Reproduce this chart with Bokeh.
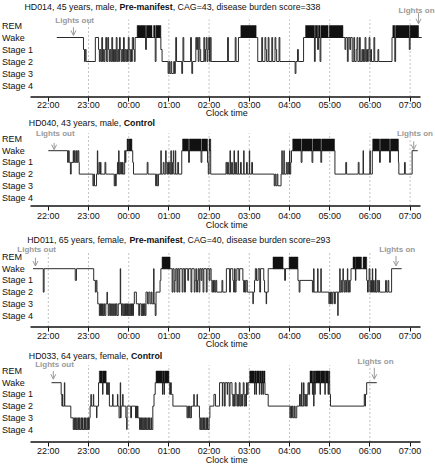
from bokeh.plotting import figure
from bokeh.models import LinearAxis, FixedTicker, Label, Arrow, OpenHead, Range1d
from bokeh.layouts import column
from bokeh.embed import file_html
from bokeh.resources import INLINE

FONT = "Liberation Sans"
GRAY = "#9a9a9a"

# ---------------- data ----------------
stage_names = ["Stage 4", "Stage 3", "Stage 2", "Stage 1", "Wake", "REM"]
stage_code = {"4": 0, "3": 1, "2": 2, "1": 3, "W": 4, "R": 5}
hour_ticks = [0, 1, 2, 3, 4, 5, 6, 7, 8, 9]          # hours after 22:00
hour_labels = ["22:00", "23:00", "00:00", "01:00", "02:00",
               "03:00", "04:00", "05:00", "06:00", "07:00"]
x_title = "Clock time"

# panel 1
p1_title = ("HD014, 45 years, male, ", "Pre-manifest", ", CAG=43, disease burden score=338")
p1_lights = (0.625, 9.21)
p1_end = 9.29
p1_hypno = [(0.21,"W"),(0.875,"1"),(0.90,"2"),(0.92,"1"),(0.94,"2"),(1.17,"W"),(1.25,"1"),(1.27,"2"),(1.29,"1"),(1.31,"2"),(1.33,"W"),(1.35,"2"),(1.37,"1"),(1.39,"2"),(1.41,"1"),(1.43,"W"),(1.45,"2"),(1.48,"W"),(1.50,"1"),(1.52,"2"),(1.54,"1"),(1.56,"2"),(1.58,"W"),(1.60,"2"),(1.62,"1"),(1.63,"2"),(1.65,"1"),(1.67,"2"),(1.69,"W"),(1.71,"2"),(1.73,"1"),(1.75,"2"),(1.77,"W"),(1.79,"1"),(1.81,"2"),(1.83,"1"),(1.85,"2"),(1.87,"W"),(1.89,"2"),(1.91,"1"),(1.93,"2"),(1.95,"1"),(1.97,"2"),(1.99,"W"),(2.01,"1"),(2.03,"2"),(2.05,"1"),(2.07,"2"),(2.09,"W"),(2.12,"1"),(2.14,"2"),(2.16,"W"),(2.21,"R"),(2.42,"1"),(2.44,"R"),(2.58,"W"),(2.62,"R"),(2.66,"2"),(2.68,"R"),(2.80,"1"),(2.83,"2"),(2.98,"3"),(3.00,"2"),(3.02,"3"),(3.05,"2"),(3.07,"3"),(3.12,"2"),(3.14,"3"),(3.16,"2"),(3.17,"W"),(3.19,"2"),(3.32,"3"),(3.34,"2"),(3.35,"W"),(3.37,"2"),(3.54,"W"),(3.56,"2"),(3.57,"3"),(3.59,"2"),(3.67,"W"),(3.69,"1"),(3.71,"W"),(3.73,"2"),(3.75,"W"),(3.77,"1"),(3.79,"2"),(3.87,"W"),(3.89,"2"),(3.91,"1"),(3.93,"W"),(3.95,"2"),(3.97,"1"),(3.99,"W"),(4.01,"2"),(4.03,"W"),(4.05,"2"),(4.46,"W"),(4.48,"2"),(4.65,"W"),(4.67,"2"),(4.73,"W"),(4.79,"R"),(5.17,"W"),(5.21,"2"),(5.31,"W"),(5.33,"2"),(5.39,"W"),(5.41,"1"),(5.43,"2"),(5.47,"W"),(5.49,"2"),(5.56,"W"),(5.58,"2"),(5.64,"W"),(5.66,"1"),(5.68,"2"),(5.74,"W"),(5.76,"2"),(6.14,"3"),(6.16,"2"),(6.20,"1"),(6.22,"2"),(6.35,"W"),(6.40,"R"),(6.62,"2"),(6.64,"R"),(6.70,"1"),(6.72,"R"),(6.76,"2"),(6.78,"R"),(6.96,"W"),(6.99,"R"),(7.33,"W"),(7.38,"1"),(7.40,"W"),(7.44,"2"),(7.46,"W"),(7.50,"1"),(7.52,"W"),(7.56,"2"),(7.60,"W"),(7.62,"2"),(7.66,"1"),(7.68,"W"),(7.70,"2"),(7.74,"W"),(7.76,"2"),(7.80,"1"),(7.82,"2"),(7.84,"1"),(7.86,"2"),(7.88,"W"),(7.90,"2"),(7.92,"1"),(7.94,"2"),(7.96,"1"),(7.98,"W"),(8.00,"2"),(8.02,"1"),(8.04,"2"),(8.10,"W"),(8.12,"2"),(8.20,"1"),(8.22,"2"),(8.55,"W"),(8.57,"R"),(8.62,"2"),(8.64,"R"),(8.98,"1"),(9.00,"R"),(9.21,"W")]

# panel 2
p2_title = ("HD040, 43 years, male, ", "Control", "")
p2_lights = (0.145, 9.09)
p2_end = 9.19
p2_hypno = [(0.0,"W"),(0.48,"1"),(0.50,"W"),(0.52,"1"),(0.55,"2"),(0.57,"1"),(0.62,"W"),(0.63,"1"),(0.65,"W"),(0.67,"1"),(0.70,"W"),(0.72,"1"),(0.74,"W"),(0.76,"1"),(0.77,"2"),(1.11,"3"),(1.13,"2"),(1.15,"3"),(1.20,"2"),(1.22,"W"),(1.23,"2"),(1.26,"1"),(1.28,"2"),(1.30,"1"),(1.31,"2"),(1.41,"1"),(1.43,"2"),(1.64,"3"),(1.66,"2"),(1.67,"3"),(1.69,"2"),(1.72,"1"),(1.74,"2"),(1.75,"W"),(1.76,"2"),(1.78,"1"),(1.80,"2"),(1.82,"1"),(1.84,"2"),(1.85,"1"),(1.86,"2"),(1.90,"W"),(1.92,"1"),(1.93,"W"),(1.96,"R"),(2.00,"W"),(2.01,"R"),(2.08,"W"),(2.10,"1"),(2.12,"2"),(2.46,"1"),(2.48,"2"),(2.67,"3"),(2.69,"2"),(2.71,"3"),(2.74,"2"),(2.80,"W"),(2.81,"2"),(2.86,"1"),(2.88,"2"),(2.92,"W"),(2.93,"1"),(2.95,"2"),(2.97,"1"),(2.99,"2"),(3.01,"1"),(3.03,"2"),(3.05,"W"),(3.06,"2"),(3.09,"1"),(3.11,"W"),(3.12,"2"),(3.16,"W"),(3.17,"2"),(3.22,"1"),(3.24,"2"),(3.32,"W"),(3.34,"R"),(3.49,"1"),(3.51,"R"),(3.80,"1"),(3.82,"R"),(3.96,"1"),(3.98,"2"),(4.00,"R"),(4.04,"2"),(4.42,"1"),(4.44,"2"),(4.46,"1"),(4.48,"2"),(4.52,"W"),(4.53,"2"),(4.56,"1"),(4.58,"2"),(4.62,"W"),(4.63,"2"),(4.66,"1"),(4.68,"2"),(4.72,"W"),(4.73,"2"),(4.78,"1"),(4.80,"2"),(4.86,"W"),(4.87,"2"),(4.93,"1"),(4.95,"2"),(5.00,"W"),(5.01,"2"),(5.06,"1"),(5.08,"2"),(5.62,"3"),(5.64,"2"),(5.66,"3"),(5.69,"2"),(5.71,"3"),(5.79,"2"),(5.81,"W"),(5.82,"2"),(5.86,"W"),(5.87,"2"),(5.92,"1"),(5.94,"2"),(5.96,"1"),(5.98,"2"),(6.00,"W"),(6.01,"2"),(6.03,"1"),(6.05,"W"),(6.08,"R"),(6.29,"1"),(6.31,"R"),(6.56,"1"),(6.58,"R"),(6.78,"1"),(6.80,"R"),(7.12,"W"),(7.13,"2"),(7.40,"1"),(7.42,"2"),(7.71,"1"),(7.73,"2"),(7.83,"W"),(7.84,"2"),(8.00,"W"),(8.01,"2"),(8.06,"W"),(8.07,"R"),(8.24,"1"),(8.26,"R"),(8.49,"1"),(8.51,"R"),(8.71,"1"),(8.72,"2"),(8.86,"1"),(8.88,"2"),(9.05,"W")]

# panel 3
p3_title = ("HD011, 65 years, female, ", "Pre-manifest", ", CAG=40, disease burden score=293")
p3_lights = (-0.32, 8.65)
p3_end = 8.79
p3_hypno = [(-0.38,"W"),(-0.125,"2"),(-0.105,"W"),(0.67,"1"),(0.70,"W"),(1.13,"1"),(1.17,"2"),(1.19,"1"),(1.21,"2"),(1.23,"3"),(1.27,"4"),(1.29,"3"),(1.30,"4"),(1.32,"3"),(1.33,"4"),(1.35,"3"),(1.36,"4"),(1.38,"3"),(1.40,"4"),(1.43,"3"),(1.46,"2"),(1.47,"3"),(1.49,"4"),(1.51,"3"),(1.53,"4"),(1.55,"3"),(1.57,"4"),(1.60,"3"),(1.62,"4"),(1.65,"3"),(1.67,"4"),(1.69,"3"),(1.71,"4"),(1.74,"3"),(1.79,"W"),(1.80,"3"),(1.82,"4"),(1.84,"3"),(1.86,"4"),(1.88,"3"),(1.89,"4"),(1.91,"3"),(1.92,"4"),(1.94,"3"),(1.95,"4"),(1.97,"3"),(1.98,"4"),(2.00,"3"),(2.01,"4"),(2.03,"3"),(2.04,"4"),(2.06,"3"),(2.07,"4"),(2.09,"3"),(2.10,"4"),(2.12,"3"),(2.14,"2"),(2.19,"3"),(2.25,"4"),(2.27,"3"),(2.31,"4"),(2.33,"3"),(2.34,"4"),(2.36,"3"),(2.37,"4"),(2.39,"3"),(2.41,"4"),(2.43,"2"),(2.47,"3"),(2.50,"2"),(2.53,"3"),(2.56,"2"),(2.58,"3"),(2.62,"W"),(2.63,"3"),(2.66,"4"),(2.68,"2"),(2.78,"1"),(2.80,"W"),(2.83,"R"),(3.03,"W"),(3.08,"2"),(3.10,"W"),(3.13,"2"),(3.15,"1"),(3.17,"W"),(3.20,"2"),(3.22,"W"),(3.25,"2"),(3.27,"W"),(3.33,"2"),(3.35,"W"),(3.39,"2"),(3.41,"W"),(3.47,"1"),(3.49,"W"),(3.55,"2"),(3.57,"W"),(3.63,"2"),(3.65,"1"),(3.67,"W"),(3.69,"2"),(3.71,"1"),(3.73,"W"),(3.75,"2"),(3.77,"W"),(3.80,"1"),(3.82,"W"),(3.85,"2"),(3.87,"W"),(3.93,"2"),(3.95,"W"),(4.00,"1"),(4.02,"W"),(4.05,"1"),(4.07,"2"),(4.09,"1"),(4.11,"2"),(4.13,"1"),(4.15,"2"),(4.17,"1"),(4.19,"2"),(4.32,"1"),(4.34,"2"),(4.43,"W"),(4.51,"2"),(4.53,"W"),(4.59,"1"),(4.61,"2"),(4.63,"W"),(4.65,"2"),(4.67,"1"),(4.69,"W"),(4.74,"1"),(4.76,"W"),(4.84,"1"),(4.86,"2"),(4.88,"1"),(4.90,"2"),(4.92,"1"),(4.95,"2"),(5.09,"3"),(5.10,"2"),(5.13,"1"),(5.15,"W"),(5.18,"1"),(5.22,"W"),(5.26,"2"),(5.28,"W"),(5.36,"1"),(5.38,"2"),(5.42,"3"),(5.43,"2"),(5.47,"W"),(5.59,"R"),(5.84,"W"),(5.88,"1"),(5.90,"W"),(5.99,"R"),(6.21,"1"),(6.24,"2"),(6.26,"1"),(6.57,"2"),(6.60,"W"),(6.61,"2"),(6.70,"W"),(6.71,"2"),(6.78,"W"),(6.79,"2"),(6.98,"3"),(7.00,"2"),(7.02,"3"),(7.04,"2"),(7.06,"3"),(7.08,"2"),(7.12,"3"),(7.14,"2"),(7.20,"4"),(7.21,"2"),(7.25,"W"),(7.26,"2"),(7.29,"1"),(7.31,"2"),(7.33,"W"),(7.34,"1"),(7.36,"2"),(7.38,"1"),(7.40,"2"),(7.42,"1"),(7.44,"W"),(7.45,"2"),(7.47,"1"),(7.49,"2"),(7.51,"1"),(7.53,"W"),(7.58,"R"),(7.64,"1"),(7.65,"R"),(7.79,"W"),(7.83,"R"),(7.92,"1"),(7.94,"2"),(7.96,"1"),(7.98,"W"),(8.00,"2"),(8.02,"1"),(8.04,"2"),(8.06,"W"),(8.07,"2"),(8.09,"1"),(8.11,"2"),(8.14,"W"),(8.15,"2"),(8.18,"1"),(8.20,"2"),(8.22,"1"),(8.24,"2"),(8.39,"1"),(8.41,"2"),(8.45,"1"),(8.47,"2"),(8.54,"W")]

# panel 4
p4_title = ("HD033, 64 years, female, ", "Control", "")
p4_lights = (0.125, 8.11)
p4_end = 8.17
p4_hypno = [(0.08,"W"),(0.32,"1"),(0.34,"2"),(0.35,"1"),(0.36,"2"),(0.40,"W"),(0.41,"2"),(0.56,"3"),(0.62,"4"),(0.64,"3"),(0.65,"4"),(0.68,"3"),(0.69,"4"),(0.71,"3"),(0.72,"4"),(0.75,"3"),(0.76,"4"),(0.78,"3"),(0.79,"4"),(0.82,"3"),(0.83,"4"),(0.85,"3"),(0.86,"4"),(0.89,"3"),(0.90,"4"),(0.92,"3"),(0.93,"4"),(0.96,"3"),(0.97,"4"),(0.99,"3"),(1.00,"4"),(1.02,"3"),(1.04,"2"),(1.06,"1"),(1.07,"2"),(1.12,"1"),(1.13,"2"),(1.20,"3"),(1.21,"2"),(1.25,"W"),(1.27,"R"),(1.35,"1"),(1.36,"R"),(1.44,"W"),(1.45,"1"),(1.47,"W"),(1.48,"1"),(1.50,"W"),(1.52,"2"),(1.60,"1"),(1.61,"2"),(1.72,"1"),(1.73,"2"),(1.76,"3"),(1.79,"W"),(1.80,"3"),(1.81,"2"),(1.85,"1"),(1.86,"2"),(1.93,"3"),(1.95,"4"),(1.96,"2"),(2.05,"3"),(2.07,"2"),(2.17,"3"),(2.18,"2"),(2.19,"3"),(2.20,"2"),(2.21,"3"),(2.22,"2"),(2.23,"3"),(2.27,"4"),(2.29,"3"),(2.30,"4"),(2.32,"3"),(2.33,"4"),(2.35,"3"),(2.36,"4"),(2.38,"3"),(2.39,"4"),(2.42,"3"),(2.43,"4"),(2.45,"3"),(2.46,"4"),(2.49,"3"),(2.50,"4"),(2.52,"3"),(2.53,"4"),(2.56,"3"),(2.57,"4"),(2.60,"2"),(2.63,"1"),(2.66,"W"),(2.68,"R"),(2.84,"1"),(2.85,"R"),(2.88,"1"),(2.89,"R"),(3.00,"W"),(3.02,"1"),(3.04,"W"),(3.06,"1"),(3.10,"2"),(3.45,"3"),(3.47,"2"),(3.49,"3"),(3.51,"2"),(3.53,"3"),(3.56,"2"),(3.62,"1"),(3.63,"2"),(3.70,"1"),(3.71,"2"),(3.76,"3"),(3.77,"4"),(3.79,"3"),(3.80,"4"),(3.82,"3"),(3.83,"4"),(3.86,"3"),(3.87,"4"),(3.89,"3"),(3.90,"4"),(3.93,"3"),(3.94,"4"),(3.96,"3"),(3.97,"4"),(4.00,"3"),(4.02,"2"),(4.12,"1"),(4.16,"2"),(4.26,"W"),(4.33,"2"),(4.34,"W"),(4.38,"2"),(4.40,"W"),(4.45,"1"),(4.46,"W"),(4.50,"2"),(4.52,"W"),(4.57,"1"),(4.59,"2"),(4.61,"1"),(4.63,"2"),(4.65,"W"),(4.67,"1"),(4.69,"2"),(4.71,"1"),(4.73,"2"),(4.75,"W"),(4.77,"2"),(4.79,"1"),(4.81,"2"),(4.83,"1"),(4.85,"W"),(4.87,"2"),(4.89,"1"),(4.91,"2"),(4.93,"W"),(4.95,"1"),(4.97,"W"),(5.01,"R"),(5.13,"1"),(5.14,"R"),(5.17,"1"),(5.18,"R"),(5.25,"1"),(5.26,"R"),(5.30,"1"),(5.31,"R"),(5.34,"1"),(5.35,"R"),(5.39,"1"),(5.47,"2"),(6.01,"3"),(6.03,"2"),(6.05,"3"),(6.07,"2"),(6.09,"3"),(6.12,"2"),(6.14,"3"),(6.18,"2"),(6.25,"1"),(6.27,"2"),(6.30,"W"),(6.31,"2"),(6.35,"W"),(6.36,"1"),(6.38,"2"),(6.40,"1"),(6.42,"2"),(6.44,"1"),(6.46,"W"),(6.48,"1"),(6.50,"W"),(6.51,"R"),(6.57,"1"),(6.58,"R"),(6.60,"2"),(6.61,"R"),(6.63,"1"),(6.64,"R"),(6.76,"1"),(6.77,"R"),(6.88,"1"),(6.89,"R"),(6.96,"1"),(6.97,"R"),(7.00,"1"),(7.02,"2"),(7.86,"1"),(7.88,"2"),(7.89,"1"),(7.92,"W")]

# ---------------- layout (pixels inside each figure) ----------------
W = 435
PXH = 40.2                        # pixels per hour
AX0, AX1 = -0.4428, 9.2587        # extent of the drawn time axis line
T0 = AX0 - 30 / PXH               # visible range covers the full figure width
T1 = T0 + W / PXH
CLOCK_X = 226.3                   # centre of the "Clock time" text, px

layouts = [
    dict(h=117, rem=25.0, s4=85.0, axis=96.5, clock=112.6, lab_off=-1, title=6.0, title_x=24.0,
         out_txt=5.42, out_arrow=(4.86, 4.17), on_txt=6.25, on_arrow=(6.03, 5.14), on_txt_x=9.16),
    dict(h=115, rem=21.5, s4=80.0, axis=88.5, clock=107.5, lab_off=1, title=5.0, title_x=28.3,
         out_txt=5.51, out_arrow=(4.66, 4.09), on_txt=5.51, on_arrow=(4.80, 4.09), on_txt_x=None),
    dict(h=116, rem=24.5, s4=83.0, axis=94.5, clock=111.5, lab_off=0, title=7.0, title_x=26.7,
         out_txt=5.60, out_arrow=(4.94, 4.23), on_txt=5.66, on_arrow=(5.09, 4.23), on_txt_x=None),
    dict(h=116, rem=22.5, s4=81.0, axis=93.5, clock=111.5, lab_off=0, title=7.0, title_x=28.3,
         out_txt=5.56, out_arrow=(5.00, 4.30), on_txt=5.83, on_arrow=(5.28, 4.30), on_txt_x=None),
]

REG = {' ': 278, ',': 278, '=': 584, '-': 333, 'A': 667, 'C': 722, 'D': 722, 'G': 778, 'H': 722,
       'a': 556, 'b': 556, 'c': 500, 'd': 556, 'e': 556, 'f': 278, 'i': 222, 'l': 222, 'm': 833,
       'n': 556, 'o': 556, 'r': 333, 's': 500, 't': 278, 'u': 556, 'y': 500}
for _d in "0123456789":
    REG[_d] = 556
BOLD = {'C': 722, 'P': 667, 'r': 389, 'e': 556, '-': 333, 'm': 889, 'a': 556, 'n': 611,
        'i': 278, 'f': 333, 's': 556, 't': 333, 'o': 611, 'l': 278}
TITLE_SIZE = 8.8


def text_w(s, table, size):
    return sum(table.get(c, 556) for c in s) / 1000.0 * size


def fx_to_t(fx):
    return T0 + fx / PXH


def build(title, hyp, end, lights, lay):
    H = lay["h"]
    sp = (lay["s4"] - lay["rem"]) / 5.0
    y0 = 5 - (H - lay["rem"]) / sp
    y1 = 5 + lay["rem"] / sp

    def lvl(fy):
        return 5 - (fy - lay["rem"]) / sp

    ax_lvl = lvl(lay["axis"])

    p = figure(width=W, height=H, x_range=Range1d(T0, T1), y_range=Range1d(y0, y1),
               output_backend="svg", toolbar_location=None,
               x_axis_location=None, y_axis_location=None,
               min_border=0, min_border_left=0, min_border_right=0,
               min_border_top=0, min_border_bottom=0,
               outline_line_color=None, background_fill_color="white",
               border_fill_color="white")
    p.xgrid.visible = False
    p.ygrid.visible = False

    start = hyp[0][0]
    gx = [h for h in hour_ticks if start < h < end]
    p.segment(x0=gx, y0=[ax_lvl] * len(gx), x1=gx, y1=[5.5] * len(gx),
              line_color="#c4c4c4", line_width=1, line_dash="2 2")

    xs = [t for t, _ in hyp] + [end]
    lv = [min(stage_code[s], 4) for _, s in hyp]
    ys = lv + [lv[-1]]
    p.step(xs, ys, mode="after", line_color="#2a2a2a", line_width=1)

    left, right = [], []
    for i, (t, s) in enumerate(hyp):
        if s == "R":
            left.append(t)
            right.append(hyp[i + 1][0] if i + 1 < len(hyp) else end)
    p.quad(left=left, right=right, bottom=4, top=5, fill_color="#111111",
           line_color="#111111", line_width=0.5)

    # time axis
    p.segment(x0=[AX0], y0=[ax_lvl], x1=[AX1], y1=[ax_lvl],
              line_color="#111111", line_width=1.3)
    ax = LinearAxis(fixed_location=ax_lvl, ticker=FixedTicker(ticks=hour_ticks),
                    major_label_overrides={h: l for h, l in zip(hour_ticks, hour_labels)})
    ax.axis_line_color = None
    ax.major_tick_line_color = "#111111"
    ax.major_tick_out = 4
    ax.major_tick_in = 0
    ax.minor_tick_line_color = None
    ax.major_label_text_font = FONT
    ax.major_label_text_font_size = "9px"
    ax.major_label_text_color = "#111111"
    ax.major_label_standoff = lay["lab_off"]
    p.add_layout(ax, "below")
    p.add_layout(Label(x=fx_to_t(CLOCK_X), y=lvl(lay["clock"]), text=x_title,
                       text_font=FONT, text_font_size="9px", text_color="#111111",
                       text_align="center", text_baseline="middle"))

    # y level names
    for lv_i, name in enumerate(stage_names):
        p.add_layout(Label(x=fx_to_t(1.5), y=lv_i, text=name, text_font=FONT,
                           text_font_size="9px", text_color="#111111",
                           text_align="left", text_baseline="middle"))

    # title with bold part
    x0 = lay["title_x"]
    parts = [(title[0], "normal", REG), (title[1], "bold", BOLD), (title[2], "normal", REG)]
    for txt, style, table in parts:
        if txt:
            p.add_layout(Label(x=fx_to_t(x0), y=lvl(lay["title"]), text=txt, text_font=FONT,
                               text_font_size=f"{TITLE_SIZE}px", text_font_style=style,
                               text_color="#111111", text_align="left",
                               text_baseline="middle"))
        x0 += text_w(txt, table, TITLE_SIZE)

    # lights out / lights on
    lo, lon = lights
    for t, txt, tl, (a0, a1), tx in [(lo, "Lights out", lay["out_txt"], lay["out_arrow"], None),
                                     (lon, "Lights on", lay["on_txt"], lay["on_arrow"], lay["on_txt_x"])]:
        p.add_layout(Label(x=(tx if tx is not None else t + 0.03), y=tl, text=txt,
                           text_font=FONT, text_font_size="8px", text_font_style="bold",
                           text_color=GRAY, text_align="center", text_baseline="middle"))
        p.add_layout(Arrow(end=OpenHead(size=5, line_color=GRAY, line_width=1),
                           x_start=t, y_start=a0, x_end=t, y_end=a1,
                           line_color=GRAY, line_width=1))
    return p


panels = [
    (p1_title, p1_hypno, p1_end, p1_lights),
    (p2_title, p2_hypno, p2_end, p2_lights),
    (p3_title, p3_hypno, p3_end, p3_lights),
    (p4_title, p4_hypno, p4_end, p4_lights),
]
figs = [build(*pan, lay) for pan, lay in zip(panels, layouts)]
root = column(*figs, spacing=0)

open("out.html", "w").write(file_html(root, INLINE))
